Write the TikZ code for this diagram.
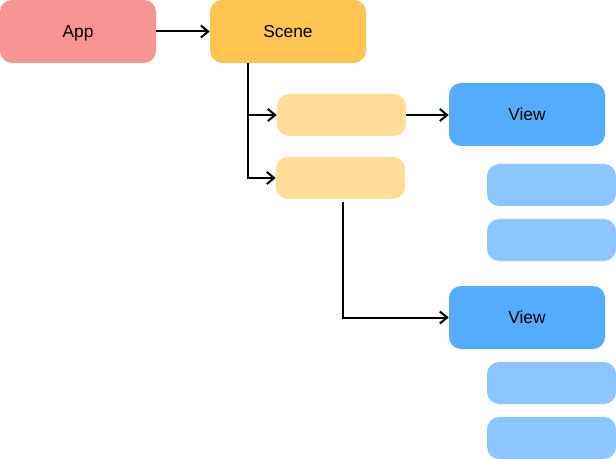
\documentclass[tikz,border=0pt]{standalone}
\usepackage{fontspec}
\setmainfont{Liberation Sans}
\usetikzlibrary{arrows.meta}
\definecolor{appc}{HTML}{F99494}
\definecolor{scenec}{HTML}{FFC552}
\definecolor{lorange}{HTML}{FFDD99}
\definecolor{viewc}{HTML}{55ACFF}
\definecolor{lblue}{HTML}{8CC5FF}
\begin{document}
\begin{tikzpicture}[x=0.75pt,y=-0.75pt,
  box/.style={rectangle,rounded corners=9pt,inner sep=0pt,text height=9.3pt,text depth=0pt,font=\fontsize{13}{15}\selectfont},
  bigbox/.style={box,minimum width=117pt,minimum height=47.25pt},
  smallbox/.style={box,minimum width=96.75pt,minimum height=31.5pt},
  arr/.style={line width=1.5pt,-{Straight Barb[length=5.5pt,width=9pt,line width=1.5pt]}}]
\useasboundingbox (0,0) rectangle (616,459);
\node[bigbox,fill=appc] (app) at (78,31.5) {App};
\node[bigbox,fill=scenec] (scene) at (288,31.5) {Scene};
\node[smallbox,fill=lorange] (o1) at (341.5,115) {};
\node[smallbox,fill=lorange] (o2) at (340.5,178) {};
\node[bigbox,fill=viewc] (v1) at (527,114.5) {View};
\node[smallbox,fill=lblue] (lb1) at (551.5,185) {};
\node[smallbox,fill=lblue] (lb2) at (551.5,240) {};
\node[bigbox,fill=viewc] (v2) at (527,317.5) {View};
\node[smallbox,fill=lblue] (lb3) at (551.5,383) {};
\node[smallbox,fill=lblue] (lb4) at (551.5,438) {};
\draw[arr] (app) -- (scene);
\draw[arr] ([xshift=-30pt]scene.south) |- (o1);
\draw[arr] ([xshift=-30pt]scene.south) |- (o2);
\draw[arr] (o1.east) -- (o1.east -| v1.west);
\draw[arr] ([xshift=1.9pt,yshift=-2.25pt]o2.south) |- (v2);
\end{tikzpicture}
\end{document}
